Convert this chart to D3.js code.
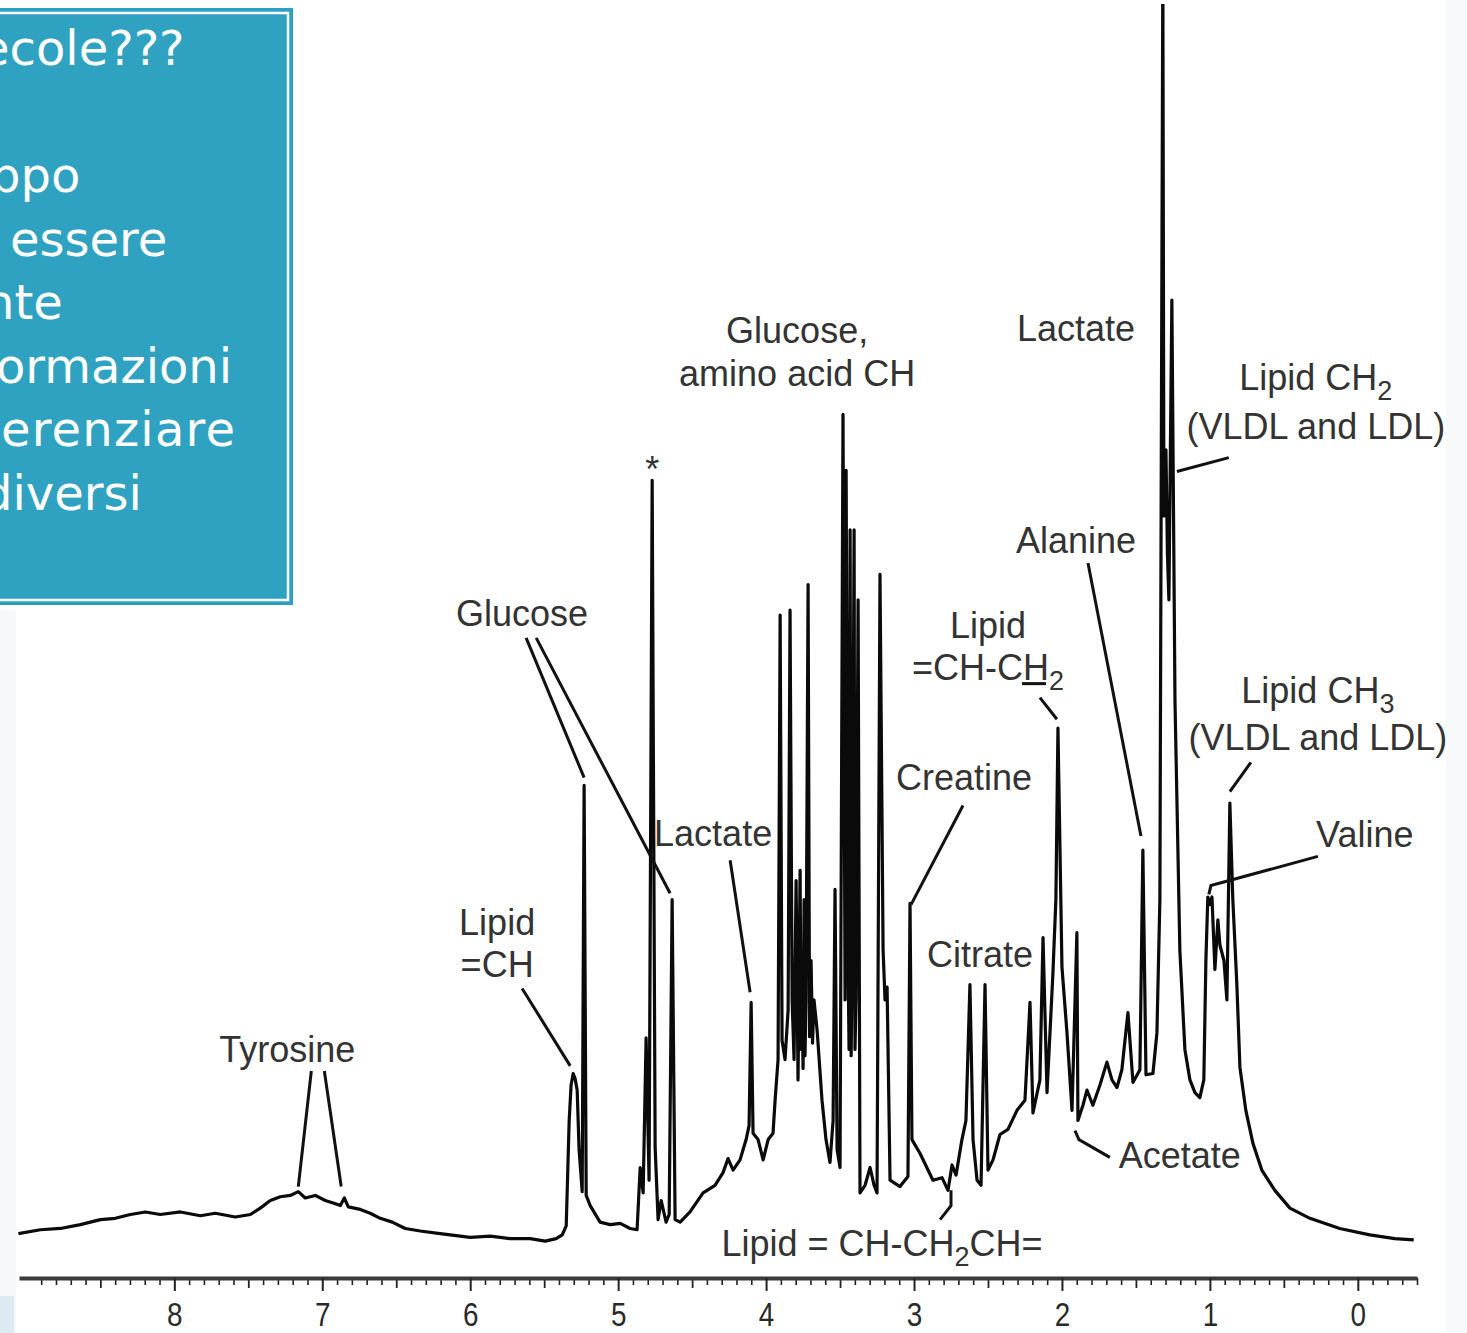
<!DOCTYPE html>
<html>
<head>
<meta charset="utf-8">
<script src="https://cdn.jsdelivr.net/npm/d3@7"></script>
<style>
  body { margin: 0; background: #fff; }
  svg { display: block; }
</style>
</head>
<body>
<div id="chart"></div>
<script>
// 1H NMR spectrum of plasma: [chemical shift (ppm), relative intensity]
const spectrum = [
  [9.054,3.5],[8.905,3.8],[8.770,3.9],[8.635,4.2],[8.500,4.6],[8.399,4.7],[8.297,5.0],[8.196,5.2],
  [8.095,5.0],[7.959,5.2],[7.824,4.9],[7.723,5.1],[7.588,4.8],[7.486,5.0],[7.419,5.5],[7.351,6.1],
  [7.284,6.4],[7.216,6.5],[7.162,6.8],[7.115,6.3],[7.047,6.5],[6.980,6.1],[6.926,5.9],[6.878,5.7],
  [6.851,6.3],[6.824,5.6],[6.743,5.4],[6.676,5.1],[6.608,4.7],[6.527,4.4],[6.439,3.9],[6.338,3.7],
  [6.203,3.5],[6.000,3.2],[5.865,3.3],[5.730,3.1],[5.595,3.1],[5.493,2.9],[5.419,3.1],[5.378,3.4],
  [5.351,4.1],[5.331,12.4],[5.318,15.2],[5.304,16.1],[5.291,15.7],[5.277,14.8],[5.264,10.1],[5.243,6.8],
  [5.230,38.8],[5.216,6.5],[5.189,5.7],[5.122,4.4],[5.054,4.2],[4.986,4.3],[4.919,3.9],[4.872,3.8],
  [4.851,8.7],[4.831,6.7],[4.811,18.9],[4.791,7.7],[4.770,62.8],[4.750,10.3],[4.730,4.6],[4.709,6.1],
  [4.676,4.4],[4.655,5.0],[4.635,29.8],[4.615,4.6],[4.581,4.4],[4.514,5.2],[4.426,6.7],[4.345,7.3],
  [4.291,8.3],[4.257,9.4],[4.223,8.5],[4.176,9.3],[4.135,10.9],[4.115,12.0],[4.101,21.7],[4.088,11.4],
  [4.054,10.9],[4.020,9.3],[3.986,10.9],[3.953,11.4],[3.939,14.0],[3.919,17.2],[3.905,52.2],[3.892,18.7],
  [3.872,17.2],[3.851,21.1],[3.838,52.6],[3.824,21.9],[3.811,17.2],[3.797,31.3],[3.784,15.6],[3.770,32.1],
  [3.763,18.0],[3.757,22.7],[3.750,16.5],[3.743,29.8],[3.737,17.5],[3.730,21.9],[3.716,54.6],[3.706,19.0],
  [3.696,25.0],[3.686,18.5],[3.676,21.9],[3.655,19.5],[3.622,14.0],
  [3.595,10.9],[3.568,9.1],[3.547,12.4],[3.534,30.6],[3.520,10.1],[3.500,8.7],[3.480,68.0],[3.466,21.9],
  [3.459,63.6],[3.446,25.0],[3.439,18.0],[3.432,58.9],[3.425,17.5],[3.419,23.5],[3.405,58.9],[3.399,18.0],
  [3.392,21.9],[3.378,53.4],[3.365,6.7],
  [3.331,7.3],[3.297,8.7],[3.270,7.3],[3.250,6.7],[3.230,55.4],[3.209,25.8],[3.196,21.9],[3.182,22.9],
  [3.162,7.7],[3.095,7.2],[3.041,8.0],[3.027,29.5],[3.014,10.9],[2.959,9.8],[2.872,7.7],[2.811,7.9],
  [2.770,6.9],[2.743,8.9],[2.716,8.1],[2.676,10.9],[2.649,12.4],[2.622,23.1],[2.601,10.9],[2.574,7.7],
  [2.547,7.3],[2.520,23.1],[2.500,8.5],[2.466,9.3],[2.419,11.3],[2.365,11.7],[2.304,13.2],[2.250,14.0],
  [2.216,21.7],[2.196,13.0],[2.149,15.6],[2.128,26.8],[2.101,14.6],[2.061,24.0],[2.041,29.8],[2.027,43.3],
  [2.000,24.5],[1.966,19.3],[1.932,13.2],[1.899,27.2],[1.892,12.4],[1.858,13.6],[1.831,14.8],[1.791,13.6],
  [1.743,15.2],[1.696,17.0],[1.662,15.6],[1.628,15.0],[1.595,16.4],[1.554,20.9],[1.520,15.4],[1.473,16.4],
  [1.453,33.7],[1.432,16.0],[1.385,16.1],[1.358,19.3],[1.338,29.8],[1.318,103],[1.311,60.0],[1.304,62.0],
  [1.297,65.2],[1.287,57.0],[1.277,53.4],
  [1.257,77.0],[1.236,45.5],[1.203,25.8],[1.169,18.0],[1.135,15.6],[1.101,14.6],[1.068,14.2],[1.041,15.6],
  [1.027,25.0],[1.014,30.0],[1.000,29.4],[0.986,30.0],[0.966,24.3],[0.946,28.2],[0.932,26.2],[0.905,25.0],
  [0.885,21.9],[0.865,37.4],[0.845,29.8],[0.818,23.2],[0.797,16.6],[0.757,13.2],[0.709,10.6],[0.649,8.5],
  [0.561,6.9],[0.459,5.5],[0.324,4.7],[0.122,3.9],[-0.081,3.4],[-0.250,3.1],[-0.378,3.0]
];

const tickLabels = [8, 7, 6, 5, 4, 3, 2, 1, 0];

// peak labels, anchored (centre, baseline) in ppm / intensity; odd parts are subscripts
const labels = [
  { parts: ["Glucose,"], ppm: 3.79, i: 73.6 },
  { parts: ["amino acid CH"], ppm: 3.79, i: 70.2 },
  { parts: ["Lactate"], ppm: 1.905, i: 73.8 },
  { parts: ["Lipid CH", "2"], ppm: 0.284, i: 69.9 },
  { parts: ["(VLDL and LDL)"], ppm: 0.284, i: 66.1 },
  { parts: ["*"], ppm: 4.77, i: 62.7 },
  { parts: ["Alanine"], ppm: 1.905, i: 57.1 },
  { parts: ["Glucose"], ppm: 5.649, i: 51.3 },
  { parts: ["Lipid"], ppm: 2.5, i: 50.4 },
  { parts: ["=CH-CH", "2"], ppm: 2.5, i: 47.1 },
  { parts: ["Lipid CH", "3"], ppm: 0.27, i: 45.3 },
  { parts: ["(VLDL and LDL)"], ppm: 0.27, i: 41.6 },
  { parts: ["Creatine"], ppm: 2.662, i: 38.4 },
  { parts: ["Valine"], ppm: -0.047, i: 33.9 },
  { parts: ["Lactate"], ppm: 4.358, i: 34.0 },
  { parts: ["Lipid"], ppm: 5.818, i: 27.0 },
  { parts: ["=CH"], ppm: 5.818, i: 23.7 },
  { parts: ["Citrate"], ppm: 2.554, i: 24.5 },
  { parts: ["Tyrosine"], ppm: 7.236, i: 17.0 },
  { parts: ["Acetate"], ppm: 1.203, i: 8.7 },
  { parts: ["Lipid = CH-CH", "2", "CH="], ppm: 3.216, i: 1.7 }
];

// leader lines from labels to peaks
const leaders = [
  [[5.622, 50.4], [5.230, 39.4]],
  [[5.554, 50.4], [4.649, 30.3]],
  [[5.649, 22.8], [5.324, 16.7]],
  [[7.074, 16.3], [7.162, 7.2]],
  [[6.986, 16.3], [6.872, 7.2]],
  [[4.243, 32.9], [4.108, 22.5]],
  [[2.669, 37.2], [3.020, 29.4]],
  [[2.750, 6.9], [2.750, 5.7], [2.824, 4.6]],
  [[1.912, 11.6], [1.885, 10.9], [1.676, 9.5]],
  [[1.824, 56.3], [1.466, 34.8]],
  [[2.149, 45.7], [2.034, 44.0]],
  [[2.270, 46.8], [2.108, 46.8]],
  [[0.872, 64.6], [1.223, 63.5]],
  [[0.723, 40.6], [0.865, 38.3]],
  [[0.270, 33.2], [0.993, 30.9], [1.007, 30.2]]
];

// slide text box (left part is cut off in the original)
const boxLines = ["ecole???", "", "ppo", "essere", "nte", "ormazioni", "erenziare", "diversi"];
const boxIndent = [-20, 0, -10, 10, -16, -4, 1, -18];
const boxSpacing = [0, 0, 0, 0, 0, 0, 1.2, 0];

const width = 1467, height = 1333;

var svg = d3.select("#chart").append("svg")
  .attr("width", width)
  .attr("height", height);

svg.append("rect").attr("width", width).attr("height", height).attr("fill", "#fff");
// faint slide decorations at the edges
svg.append("rect").attr("x", 0).attr("y", 610).attr("width", 16).attr("height", 723).attr("fill", "#f6f9fb");
svg.append("rect").attr("x", 0).attr("y", 1296).attr("width", 14).attr("height", 37).attr("fill", "#dcebf2");
svg.append("rect").attr("x", 1446).attr("y", 0).attr("width", 21).attr("height", height).attr("fill", "#f8f9fa");

var x = d3.scaleLinear().domain([9.05, -0.4]).range([19, 1417]);
var y = d3.scaleLinear().domain([0, 100]).range([1278, 8]);

// axis: minor (0.1), half (0.5) and integer ticks
var axisY = 1278;
var minorTicks = d3.range(-4, 91).map(d => d / 10).filter(d => Math.round(d * 10) % 5 != 0);
var halfTicks = d3.range(0, 9).map(d => d + 0.5);

svg.append("g")
  .attr("transform", "translate(0," + axisY + ")")
  .call(d3.axisBottom(x).tickValues(minorTicks).tickSize(7).tickSizeOuter(0).tickFormat(""))
  .call(g => g.select(".domain").remove())
  .selectAll("line").attr("stroke", "#222").attr("stroke-width", 1.6);

svg.append("g")
  .attr("transform", "translate(0," + axisY + ")")
  .call(d3.axisBottom(x).tickValues(halfTicks).tickSize(10).tickSizeOuter(0).tickFormat(""))
  .call(g => g.select(".domain").remove())
  .selectAll("line").attr("stroke", "#222").attr("stroke-width", 1.8);

var major = svg.append("g")
  .attr("transform", "translate(0," + axisY + ")")
  .call(d3.axisBottom(x).tickValues(tickLabels).tickSize(13).tickSizeOuter(0).tickPadding(11).tickFormat(d3.format("d")));
major.select(".domain").attr("stroke", "#3a3a3a").attr("stroke-width", 4);
major.selectAll("line").attr("stroke", "#222").attr("stroke-width", 2);
major.selectAll("text")
  .attr("fill", "#2a2a2a")
  .attr("transform", "scale(0.82,1)")
  .style("font-family", "'Liberation Sans', Arial, sans-serif")
  .style("font-size", "34px");

// spectrum trace
var line = d3.line().x(d => x(d[0])).y(d => y(d[1]));
svg.append("defs").append("clipPath").attr("id", "plot")
  .append("rect").attr("x", 0).attr("y", 4).attr("width", width).attr("height", axisY - 4);
svg.append("path")
  .datum(spectrum)
  .attr("clip-path", "url(#plot)")
  .attr("d", line)
  .attr("fill", "none")
  .attr("stroke", "#0a0a0a")
  .attr("stroke-width", 3.2)
  .attr("stroke-linejoin", "round");

// leader lines
svg.append("g").selectAll("path")
  .data(leaders)
  .join("path")
  .attr("d", d3.line().x(d => x(d[0])).y(d => y(d[1])))
  .attr("fill", "none")
  .attr("stroke", "#111")
  .attr("stroke-width", 3);

// labels
var lab = svg.append("g")
  .style("font-family", "'Liberation Sans', Arial, sans-serif")
  .style("font-size", "36px")
  .attr("fill", "#333");

lab.selectAll("text")
  .data(labels)
  .join("text")
  .attr("x", d => x(d.ppm))
  .attr("y", d => y(d.i))
  .attr("text-anchor", "middle")
  .each(function (d) {
    var t = d3.select(this);
    d.parts.forEach((p, k) => {
      var span = t.append("tspan").text(p);
      if (k % 2 == 1) span.attr("dy", 10).style("font-size", "27px");
      else if (k > 0) span.attr("dy", -10);
    });
  });

// teal text box
var box = svg.append("g");
box.append("rect")
  .attr("x", -10).attr("y", 9).attr("width", 302).attr("height", 595)
  .attr("fill", "#2ea2c0").attr("stroke", "#2b9fc0").attr("stroke-width", 2);
box.append("rect")
  .attr("x", -10).attr("y", 13).attr("width", 298).attr("height", 587)
  .attr("fill", "none").attr("stroke", "#fff").attr("stroke-width", 2.5);
box.selectAll("text")
  .data(boxLines)
  .join("text")
  .attr("x", (d, k) => boxIndent[k])
  .attr("y", (d, k) => 65 + k * 63.5)
  .attr("fill", "#fff")
  .style("letter-spacing", (d, k) => boxSpacing[k] + "px")
  .style("font-family", "'DejaVu Sans', Verdana, sans-serif")
  .style("font-size", "48px")
  .text(d => d);
</script>
</body>
</html>
